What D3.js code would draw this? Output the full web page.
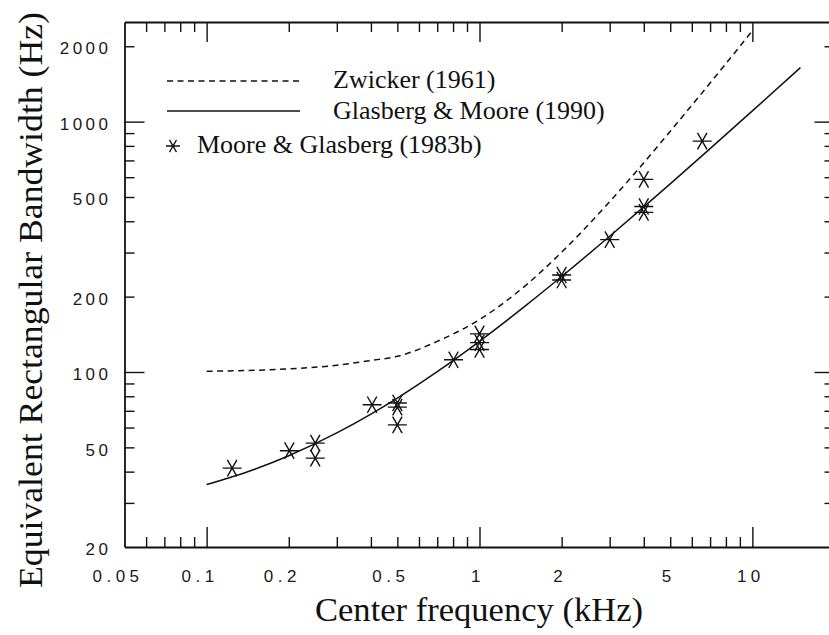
<!DOCTYPE html>
<html>
<head>
<meta charset="utf-8">
<script src="https://cdn.jsdelivr.net/npm/d3@7"></script>
<style>
  body { margin: 0; background: #fff; }
  .tick line, .domain { stroke: #111; }
</style>
</head>
<body>
<div id="vis"></div>
<script>
const width = 829;
const height = 635;

// tick positions (kHz / Hz)
const xMajor = [0.1, 1, 10];
const xMinor = [0.06, 0.07, 0.08, 0.09, 0.2, 0.3, 0.4, 0.5, 0.6, 0.7, 0.8, 0.9, 2, 3, 4, 5, 6, 7, 8, 9];
const xLabelVals = [0.05, 0.1, 0.2, 0.5, 1, 2, 5, 10];
const xLabelText = ["0.05", "0.1", "0.2", "0.5", "1", "2", "5", "10"];
const yMajor = [100, 1000];
const yMinor = [30, 40, 50, 60, 70, 80, 90, 200, 300, 400, 500, 600, 700, 800, 900, 2000];
const yLabelVals = [20, 50, 100, 200, 500, 1000, 2000];

// Zwicker (1961) curve
const zwickerF = [0.1, 0.15, 0.2, 0.3, 0.4, 0.5, 0.7, 1, 1.5, 2, 3, 4, 5, 7, 10];
const zwickerBW = [100.7, 101.6, 102.9, 106.4, 111.2, 115.5, 132.5, 162, 225, 301, 479, 685, 915, 1426, 2306];

// Glasberg & Moore (1990) curve
const gmF = [0.1, 0.15, 0.2, 0.3, 0.4, 0.5, 0.7, 1, 1.5, 2, 3, 4, 5, 7, 10, 15];
const gmBW = [35.5, 40.9, 46.3, 57.1, 67.9, 78.7, 100.3, 132.6, 186.6, 240.6, 348.5, 456.5, 564.4, 780.3, 1104, 1644];

// Moore & Glasberg (1983b) measurements
const mgF = [0.124, 0.201, 0.25, 0.25, 0.404, 0.5, 0.5, 0.5, 0.803, 1, 1, 1, 2, 2, 3, 4, 4, 4, 6.55];
const mgBW = [41.3, 48.5, 52, 45.3, 74, 75.2, 72.4, 61.5, 111.9, 142, 131, 123, 244, 233, 338, 588, 458, 434, 836];

const legendNames = ["Zwicker (1961)", "Glasberg & Moore (1990)", "Moore & Glasberg (1983b)"];

const mLeft = 124.5, mRight = 834.5, mTop = 22, mBottom = 547;

const svg = d3.select("#vis").append("svg")
  .attr("width", width)
  .attr("height", height);

const x = d3.scaleLog().domain([0.05, 20]).range([mLeft, mRight]);
const y = d3.scaleLog().domain([20, 2500]).range([mBottom, mTop]);

function styleAxis(g) {
  g.selectAll(".tick line").attr("stroke-width", 1.4);
  g.select(".domain").attr("stroke-width", 1.8);
}

// bottom / top axes: minor + major inward ticks
[[d3.axisBottom, mBottom], [d3.axisTop, mTop]].forEach(function (a) {
  svg.append("g").attr("transform", "translate(0," + a[1] + ")")
    .call(a[0](x).tickValues(xMinor).tickSize(-10).tickSizeOuter(0).tickFormat(""))
    .call(styleAxis);
  svg.append("g").attr("transform", "translate(0," + a[1] + ")")
    .call(a[0](x).tickValues(xMajor).tickSize(-20).tickSizeOuter(0).tickFormat(""))
    .call(styleAxis)
    .select(".domain").remove();
});

// left / right axes
[[d3.axisLeft, mLeft], [d3.axisRight, mRight]].forEach(function (a) {
  svg.append("g").attr("transform", "translate(" + a[1] + ",0)")
    .call(a[0](y).tickValues(yMinor).tickSize(-10).tickSizeOuter(0).tickFormat(""))
    .call(styleAxis);
  svg.append("g").attr("transform", "translate(" + a[1] + ",0)")
    .call(a[0](y).tickValues(yMajor).tickSize(-20).tickSizeOuter(0).tickFormat(""))
    .call(styleAxis)
    .select(".domain").remove();
});

// tick labels
const xLab = svg.append("g").attr("transform", "translate(0," + mBottom + ")")
  .call(d3.axisBottom(x).tickValues(xLabelVals).tickSize(0).tickPadding(23)
    .tickFormat(function (d, i) { return xLabelText[i]; }));
xLab.select(".domain").remove();
xLab.selectAll("text")
  .attr("font-family", "'Liberation Sans', Arial, sans-serif")
  .attr("font-size", 17)
  .attr("letter-spacing", 4.5)
  .attr("fill", "#1a1a1a")
  .attr("dx", function (d) { return d < 1 ? -7 : -2; });

const yLab = svg.append("g").attr("transform", "translate(" + mLeft + ",0)")
  .call(d3.axisLeft(y).tickValues(yLabelVals).tickSize(0).tickPadding(13).tickFormat(d3.format("d")));
yLab.select(".domain").remove();
yLab.selectAll("text")
  .attr("font-family", "'Liberation Sans', Arial, sans-serif")
  .attr("font-size", 17)
  .attr("letter-spacing", 3.5)
  .attr("fill", "#1a1a1a")
  .attr("dy", "0.45em");

// axis titles
svg.append("text")
  .attr("x", 479).attr("y", 621)
  .attr("text-anchor", "middle")
  .attr("font-family", "'Liberation Serif', serif")
  .attr("font-size", 34)
  .attr("textLength", 328).attr("lengthAdjust", "spacingAndGlyphs")
  .attr("fill", "#111")
  .text("Center frequency (kHz)");

svg.append("text")
  .attr("transform", "translate(42,300) rotate(-90)")
  .attr("text-anchor", "middle")
  .attr("font-family", "'Liberation Serif', serif")
  .attr("font-size", 34)
  .attr("textLength", 576).attr("lengthAdjust", "spacingAndGlyphs")
  .attr("fill", "#111")
  .text("Equivalent Rectangular Bandwidth (Hz)");

// curves
const line = d3.line()
  .x(function (d) { return x(d[0]); })
  .y(function (d) { return y(d[1]); })
  .curve(d3.curveMonotoneX);

svg.append("path")
  .datum(d3.zip(zwickerF, zwickerBW))
  .attr("d", line)
  .attr("fill", "none").attr("stroke", "#111")
  .attr("stroke-width", 1.5).attr("stroke-dasharray", "6,4.5");

svg.append("path")
  .datum(d3.zip(gmF, gmBW))
  .attr("d", line)
  .attr("fill", "none").attr("stroke", "#111")
  .attr("stroke-width", 1.5);

// asterisk marker: horizontal bar + steep X
function starPath(r) {
  const p = d3.path();
  [0, 60, 120].forEach(function (deg) {
    const a = deg * Math.PI / 180;
    p.moveTo(-r * Math.cos(a), -r * Math.sin(a));
    p.lineTo(r * Math.cos(a), r * Math.sin(a));
  });
  return p.toString();
}

svg.selectAll(".pt")
  .data(d3.zip(mgF, mgBW))
  .enter().append("path")
  .attr("class", "pt")
  .attr("transform", function (d) { return "translate(" + x(d[0]) + "," + y(d[1]) + ")"; })
  .attr("d", starPath(9.5))
  .attr("fill", "none").attr("stroke", "#111").attr("stroke-width", 1.4);

// legend
const legend = svg.append("g");
legend.append("line").attr("x1", 167).attr("x2", 300).attr("y1", 81).attr("y2", 81)
  .attr("stroke", "#111").attr("stroke-width", 1.5).attr("stroke-dasharray", "6,4.5");
legend.append("line").attr("x1", 167).attr("x2", 300).attr("y1", 111).attr("y2", 111)
  .attr("stroke", "#111").attr("stroke-width", 1.5);
legend.append("path").attr("transform", "translate(173,146)")
  .attr("d", starPath(7)).attr("fill", "none").attr("stroke", "#111").attr("stroke-width", 1.3);

const legendPos = [[333, 88], [333, 119], [197, 153]];
legend.selectAll(".ltext")
  .data(legendNames)
  .enter().append("text")
  .attr("class", "ltext")
  .attr("x", function (d, i) { return legendPos[i][0]; })
  .attr("y", function (d, i) { return legendPos[i][1]; })
  .attr("font-family", "'Liberation Serif', serif")
  .attr("font-size", 26)
  .attr("fill", "#111")
  .text(function (d) { return d; });
</script>
</body>
</html>
